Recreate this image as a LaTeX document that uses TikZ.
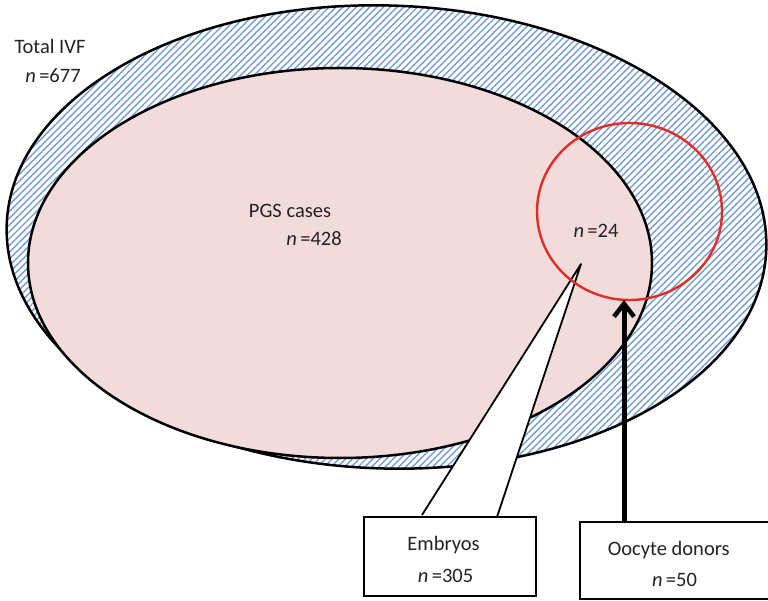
\documentclass[tikz,border=0pt]{standalone}
\usepackage{fontspec}
\setmainfont{Carlito}
\usetikzlibrary{patterns.meta,arrows.meta,shapes.geometric}
\definecolor{hatchblue}{RGB}{115,155,212}
\definecolor{pgspink}{RGB}{242,220,219}
\definecolor{circred}{RGB}{226,45,38}
\definecolor{txtgray}{RGB}{35,35,35}
\begin{document}
\begin{tikzpicture}[x=1pt,y=-1pt,
  txt/.style={font=\fontsize{20.5}{24}\selectfont, text=txtgray, inner sep=0pt, anchor=base},
  setring/.style={ellipse, draw=black, line width=2.5pt, inner sep=0pt},
  boxnode/.style={draw=black, fill=white, line width=2pt, inner sep=0pt},
  calloutline/.style={draw=black, line width=1.8pt, line join=round},
  donorarrow/.style={line width=5pt, -{Straight Barb[length=13pt,width=20pt,line width=4.5pt]}}]
\useasboundingbox (0,0) rectangle (768,601);
\clip (0,0) rectangle (768,601);
% Total IVF set
\node[setring, minimum width=760pt, minimum height=463pt, rotate=-1.8,
      pattern={Lines[angle=45,distance=4.8pt,line width=1.4pt]}, pattern color=hatchblue]
      (ivf) at (386.5,237) {};
% PGS set
\node[setring, fill=pgspink, minimum width=624pt, minimum height=390pt] (pgs) at (340,263) {};
% callout
\coordinate (ctip) at (581,264);
\coordinate (cbl) at (422,515);
\coordinate (cbr) at (497,517);
\fill[white] (ctip) -- (cbl) -- (cbr) -- cycle;
\draw[calloutline] (cbl) -- (ctip) -- (cbr);
% donor circle
\node[ellipse, draw=circred, line width=2.4pt, inner sep=0pt, minimum width=185pt, minimum height=177pt] (don) at (629.5,211.5) {};
% boxes
\node[boxnode, minimum width=172pt, minimum height=79pt] (emb) at (450,556.5) {};
\node[boxnode, minimum width=195pt, minimum height=77pt] (oo) at (677.5,560.5) {};
% arrow
\coordinate (atip) at (624,300);
\draw[donorarrow] (oo.north -| atip) -- (atip);
% texts
\node[txt] (ivft) at (50,54) {Total IVF};
\node[txt] (ivfn) at (53,83) {\textit{n}\,=677};
\node[txt] (pgst) at (290,218) {PGS cases};
\node[txt] (pgsn) at (314,246) {\textit{n}\,=428};
\node[txt] (donn) at (596,238) {\textit{n}\,=24};
\node[txt] (embt) at (443.5,550) {Embryos};
\node[txt] (embn) at (445.5,582) {\textit{n}\,=305};
\node[txt] (oot) at (668.7,555) {Oocyte donors};
\node[txt] (oon) at (674.5,586) {\textit{n}\,=50};
\end{tikzpicture}
\end{document}
